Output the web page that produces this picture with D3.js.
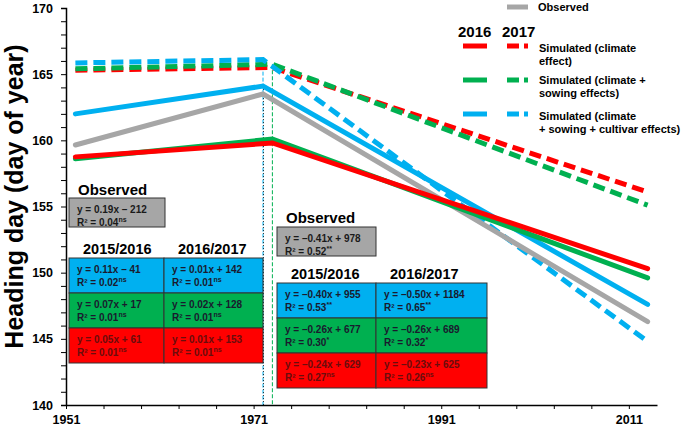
<!DOCTYPE html>
<html>
<head>
<meta charset="utf-8">
<script src="https://cdn.jsdelivr.net/npm/d3@7"></script>
<style>
  body { margin: 0; background: #fff; }
  text { font-family: Arial, "Liberation Sans", sans-serif; font-weight: bold; }
</style>
</head>
<body>
<script>
// --- data ---
const yearsA = [1952, 1972, 2013];   // observed + cultivar series
const yearsB = [1952, 1973, 2013];   // climate + sowing series
const observed      = [159.65, 163.5, 146.3];
const climate2016   = [158.75, 159.8, 150.3];
const climate2017   = [165.3, 165.5, 156.1];
const sowing2016    = [158.6, 160.1, 149.6];
const sowing2017    = [165.4, 165.75, 155.1];
const cultivar2016  = [162.0, 164.1, 147.6];
const cultivar2017  = [165.85, 166.1, 144.8];
const markerYears = [1972, 1973];
const xTickLabels = [1951, 1971, 1991, 2011];
const yTickLabels = [140, 145, 150, 155, 160, 165, 170];

const legendLabels = [
  ['Simulated (climate', 'effect)'],
  ['Simulated (climate +', 'sowing effects)'],
  ['Simulated (climate', '+ sowing + cultivar effects)']
];
// regression boxes: [equation, R², significance]
const obsEqBefore = ['y = 0.19x – 212', 'R² = 0.04', 'ns'];
const obsEqAfter  = ['y = –0.41x + 978', 'R² = 0.52', '**'];
const eqBefore = [ // rows: cultivar, sowing, climate; cols: 2015/2016, 2016/2017
  [['y = 0.11x – 41', 'R² = 0.02', 'ns'], ['y = 0.01x + 142', 'R² = 0.01', 'ns']],
  [['y = 0.07x + 17', 'R² = 0.01', 'ns'], ['y = 0.02x + 128', 'R² = 0.01', 'ns']],
  [['y = 0.05x + 61', 'R² = 0.01', 'ns'], ['y = 0.01x + 153', 'R² = 0.01', 'ns']]
];
const eqAfter = [
  [['y = –0.40x + 955', 'R² = 0.53', '**'], ['y = –0.50x + 1184', 'R² = 0.65', '**']],
  [['y = –0.26x + 677', 'R² = 0.30', '*'], ['y = –0.26x + 689', 'R² = 0.32', '*']],
  [['y = –0.24x + 629', 'R² = 0.27', 'ns'], ['y = –0.23x + 625', 'R² = 0.26', 'ns']]
];
const seasons = ['2015/2016', '2016/2017'];

const C = { red: '#ff0000', green: '#00b050', blue: '#00b0f0', gray: '#a6a6a6' };
const rowColours = [C.blue, C.green, C.red];

const W = 685, H = 428;
const svg = d3.select('body').append('svg').attr('width', W).attr('height', H);

const x = d3.scaleLinear().domain([1951, 2014]).range([66, 657]);
const y = d3.scaleLinear().domain([140, 170]).range([405, 8]);

// axes
const yAxis = d3.axisLeft(y)
  .tickValues(d3.range(140, 171, 1))
  .tickSize(5).tickPadding(8)
  .tickFormat(d => yTickLabels.includes(d) ? d : '');
svg.append('g').attr('transform', `translate(${x(1951)},0)`).call(yAxis)
  .call(g => g.select('.domain').attr('stroke-width', 1.5))
  .call(g => g.selectAll('text').style('font-size', '12.5px').attr('fill', '#000'));

const xAxis = d3.axisBottom(x)
  .tickValues(d3.range(1951, 2014, 4))
  .tickSize(4).tickPadding(6)
  .tickSizeOuter(0)
  .tickFormat(d => xTickLabels.includes(d) ? d : '');
svg.append('g').attr('transform', `translate(0,${y(140)})`).call(xAxis)
  .call(g => g.select('.domain').attr('stroke-width', 1.5))
  .call(g => g.selectAll('text').style('font-size', '12.5px').attr('fill', '#000'));

svg.append('text')
  .attr('transform', `translate(23,${(y(140) + y(170)) / 2 - 10}) rotate(-90)`)
  .attr('text-anchor', 'middle')
  .style('font-size', '25px')
  .text('Heading day (day of year)');

// vertical marker lines
svg.append('line').attr('x1', x(markerYears[0])).attr('x2', x(markerYears[0]))
  .attr('y1', y(cultivar2017[1])).attr('y2', y(140))
  .attr('stroke', C.blue).attr('stroke-width', 1).attr('stroke-dasharray', '4,2');
svg.append('line').attr('x1', x(markerYears[0]) + 0.5).attr('x2', x(markerYears[0]) + 0.5)
  .attr('y1', y(cultivar2016[1])).attr('y2', y(140))
  .attr('stroke', '#000').attr('stroke-width', 0.8).attr('stroke-dasharray', '1,2');
svg.append('line').attr('x1', x(markerYears[1])).attr('x2', x(markerYears[1]))
  .attr('y1', y(sowing2017[1])).attr('y2', y(140))
  .attr('stroke', C.green).attr('stroke-width', 1).attr('stroke-dasharray', '4,2');

// series lines
const line = d3.line().x(d => x(d[0])).y(d => y(d[1]));
const series = [
  { years: yearsB, vals: climate2017, colour: C.red, dashed: true },
  { years: yearsB, vals: sowing2017, colour: C.green, dashed: true },
  { years: yearsA, vals: cultivar2017, colour: C.blue, dashed: true },
  { years: yearsA, vals: observed, colour: C.gray, dashed: false },
  { years: yearsA, vals: cultivar2016, colour: C.blue, dashed: false },
  { years: yearsB, vals: sowing2016, colour: C.green, dashed: false },
  { years: yearsB, vals: climate2016, colour: C.red, dashed: false }
];
svg.append('g').selectAll('path').data(series).enter().append('path')
  .attr('d', s => line(s.years.map((yr, i) => [yr, s.vals[i]])))
  .attr('fill', 'none')
  .attr('stroke', s => s.colour)
  .attr('stroke-width', 5)
  .attr('stroke-linecap', s => s.dashed ? 'butt' : 'round')
  .attr('stroke-dasharray', s => s.dashed ? '12,6' : null);

// legend
const lg = svg.append('g');
lg.append('line').attr('x1', 507).attr('x2', 528).attr('y1', 7).attr('y2', 7)
  .attr('stroke', C.gray).attr('stroke-width', 5);
lg.append('text').attr('x', 538).attr('y', 11).style('font-size', '11px').text('Observed');
lg.append('text').attr('x', 458).attr('y', 37).style('font-size', '15px').text('2016');
lg.append('text').attr('x', 502).attr('y', 37).style('font-size', '15px').text('2017');
const legendRows = [
  { colour: C.red, ly: 46, ty: 52 },
  { colour: C.green, ly: 80, ty: 84 },
  { colour: C.blue, ly: 114, ty: 120 }
];
legendRows.forEach((r, i) => {
  lg.append('line').attr('x1', 463).attr('x2', 487).attr('y1', r.ly).attr('y2', r.ly)
    .attr('stroke', r.colour).attr('stroke-width', 5);
  lg.append('line').attr('x1', 507).attr('x2', 528).attr('y1', r.ly).attr('y2', r.ly)
    .attr('stroke', r.colour).attr('stroke-width', 5).attr('stroke-dasharray', '12,5');
  legendLabels[i].forEach((t, j) => {
    lg.append('text').attr('x', 539).attr('y', r.ty + j * 13).style('font-size', '11px').text(t);
  });
});

// regression boxes
function eqCell(g, x0, y0, w, h, fill, eq, textColour) {
  g.append('rect').attr('x', x0).attr('y', y0).attr('width', w).attr('height', h)
    .attr('fill', fill).attr('stroke', '#333').attr('stroke-width', 1);
  g.append('text').attr('x', x0 + 8).attr('y', y0 + 15)
    .style('font-size', '10px').attr('fill', textColour).text(eq[0]);
  const t = g.append('text').attr('x', x0 + 8).attr('y', y0 + 28)
    .style('font-size', '10px').attr('fill', textColour);
  t.append('tspan').text(eq[1]);
  t.append('tspan').attr('dy', -4).style('font-size', '7px').text(eq[2]);
}
function eqGroup(gx, cols, headerY, obsY, tableY, obsW, obsEq, table) {
  const g = svg.append('g');
  g.append('text').attr('x', gx + 9).attr('y', headerY).style('font-size', '15px').text('Observed');
  eqCell(g, gx, obsY, obsW, 29, C.gray, obsEq, '#1a1a1a');
  seasons.forEach((s, j) => {
    g.append('text').attr('x', cols[j] + 14).attr('y', tableY - 4)
      .style('font-size', '14.5px').text(s);
  });
  table.forEach((row, i) => {
    row.forEach((eq, j) => {
      eqCell(g, cols[j], tableY + i * 35, cols[j + 1] - cols[j], 35, rowColours[i], eq,
        i === 2 ? '#6a0d0d' : '#1a1a2e');
    });
  });
}
eqGroup(69, [69, 164, 263], 195, 198, 258, 96, obsEqBefore, eqBefore);
eqGroup(277, [277, 376, 487], 223, 227, 283, 99, obsEqAfter, eqAfter);
</script>
</body>
</html>
